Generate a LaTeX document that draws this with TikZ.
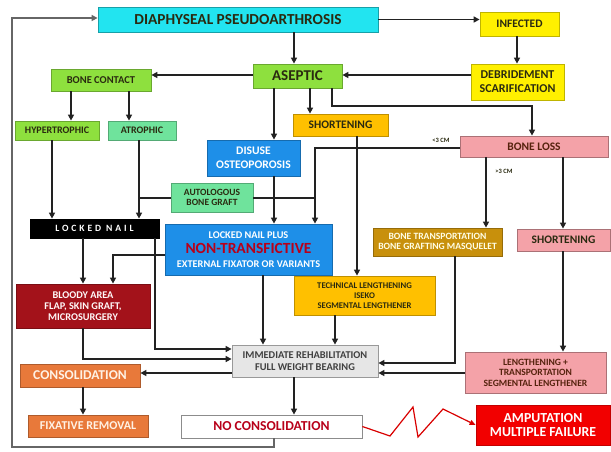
\documentclass[tikz,border=0pt]{standalone}
\usepackage{fontspec}
\setmainfont{Carlito}
\usetikzlibrary{arrows.meta}
\definecolor{cyanbox}{HTML}{22E4F0}
\definecolor{yelbox}{HTML}{FFF000}
\definecolor{grnbox}{HTML}{8EE03E}
\definecolor{mintbox}{HTML}{6FE39C}
\definecolor{bluebox}{HTML}{1E8FE8}
\definecolor{ambbox}{HTML}{FFC000}
\definecolor{pinkbox}{HTML}{F4A2A8}
\definecolor{goldbox}{HTML}{C8900C}
\definecolor{darkred}{HTML}{A3121A}
\definecolor{graybox}{HTML}{E6E6E6}
\definecolor{orgbox}{HTML}{E8793A}
\definecolor{redbox}{HTML}{F20000}
\definecolor{txtdark}{HTML}{2A2A10}
\definecolor{ntred}{HTML}{B8001A}
\definecolor{linec}{HTML}{222222}
\newcommand{\fsz}[1]{\fontsize{#1}{#1}\selectfont}
\begin{document}
\begin{tikzpicture}[x=1pt,y=-1pt,
  box/.style={draw=black!45, line width=0.8pt, inner sep=0pt, align=center, font=\bfseries, text=txtdark},
  arr/.style={draw=linec, line width=1.5pt, -{Triangle[length=6pt,width=6pt]}},
  ln/.style={draw=linec, line width=1.5pt},
  lbl/.style={font=\bfseries\fsz{6.5}, text=txtdark, inner sep=0pt}]
\path[use as bounding box, fill=white] (0,0) rectangle (611,451);
% boxes
\node[box, fill=cyanbox, draw=cyanbox!70!black, minimum width=280pt, minimum height=25pt, font=\bfseries\fsz{15.3}] (diaph) at (238,19.5) {DIAPHYSEAL PSEUDOARTHROSIS};
\node[box, fill=yelbox, draw=yelbox!75!black, minimum width=79pt, minimum height=24pt, font=\bfseries\fsz{11.5}] (infected) at (519.5,24) {INFECTED};
\node[box, fill=yelbox, draw=yelbox!75!black, minimum width=93pt, minimum height=36pt, font=\bfseries\fsz{12}] (debride) at (517.5,82) {DEBRIDEMENT\\[2pt]SCARIFICATION};
\node[box, fill=grnbox, draw=grnbox!75!black, minimum width=89pt, minimum height=24pt, font=\bfseries\fsz{15}] (aseptic) at (297.5,76) {ASEPTIC};
\node[box, fill=grnbox, draw=grnbox!75!black, minimum width=100pt, minimum height=22pt, font=\bfseries\fsz{10.5}] (bonecontact) at (101,80) {BONE CONTACT};
\node[box, fill=grnbox, draw=grnbox!75!black, minimum width=84pt, minimum height=19pt, font=\bfseries\fsz{10}] (hyper) at (57,130.5) {HYPERTROPHIC};
\node[box, fill=mintbox, draw=mintbox!75!black, minimum width=68pt, minimum height=19pt, font=\bfseries\fsz{10}] (atrophic) at (142,130.5) {ATROPHIC};
\node[box, fill=bluebox, draw=bluebox!75!black, minimum width=93pt, minimum height=36pt, font=\bfseries\fsz{11.6}, text=white] (disuse) at (253.5,158) {DISUSE\\[2pt]OSTEOPOROSIS};
\node[box, fill=ambbox, draw=ambbox!75!black, minimum width=95pt, minimum height=22pt, font=\bfseries\fsz{11.5}] (shortY) at (340.5,125) {SHORTENING};
\node[box, fill=pinkbox, draw=pinkbox!70!black, minimum width=148pt, minimum height=21pt, font=\bfseries\fsz{11.5}, text=txtdark!80!red] (boneloss) at (534,146.5) {BONE LOSS};
\node[box, fill=mintbox, draw=mintbox!75!black, minimum width=82pt, minimum height=29pt, font=\bfseries\fsz{9.5}] (autologous) at (212,197.5) {AUTOLOGOUS\\[1pt]BONE GRAFT};
\node[box, fill=black, draw=black, minimum width=129pt, minimum height=19pt, font=\bfseries\fsz{9.6}\addfontfeature{LetterSpace=30}, text=white] (lockednail) at (94.5,228.5) {LOCKED NAIL};
\node[box, fill=bluebox, draw=bluebox!75!black, minimum width=167pt, minimum height=51pt, text=white] (lnplus) at (248.5,249.5) {{\fsz{10.3}LOCKED NAIL PLUS}\\[3pt]{\fsz{15.5}\color{ntred}NON-TRANSFICTIVE}\\[2pt]{\fsz{10.3}EXTERNAL FIXATOR OR VARIANTS}};
\node[box, fill=goldbox, draw=goldbox!75!black, minimum width=129pt, minimum height=28pt, font=\bfseries\fsz{9.6}, text=white!90!yellow] (bonetrans) at (437.5,242) {BONE TRANSPORTATION\\[1pt]BONE GRAFTING MASQUELET};
\node[box, fill=pinkbox, draw=pinkbox!70!black, minimum width=93pt, minimum height=22pt, font=\bfseries\fsz{11.5}] (shortP) at (563.5,240) {SHORTENING};
\node[box, fill=ambbox, draw=ambbox!75!black, minimum width=141pt, minimum height=39pt, font=\bfseries\fsz{8.7}] (technical) at (364.5,295.5) {TECHNICAL LENGTHENING\\[1pt]ISEKO\\[1pt]SEGMENTAL LENGTHENER};
\node[box, fill=darkred, draw=darkred!75!black, minimum width=134pt, minimum height=44pt, font=\bfseries\fsz{10.3}, text=white!90!pink] (bloody) at (83,306) {BLOODY AREA\\[1pt]FLAP, SKIN GRAFT,\\[1pt]MICROSURGERY};
\node[box, fill=graybox, draw=black!40, minimum width=146pt, minimum height=32pt, font=\bfseries\fsz{10.4}, text=black!75] (rehab) at (305,361) {IMMEDIATE REHABILITATION\\[1pt]FULL WEIGHT BEARING};
\node[box, fill=pinkbox, draw=pinkbox!70!black, minimum width=141pt, minimum height=41pt, font=\bfseries\fsz{9.6}, text=txtdark!80!red] (lengthening) at (535.5,372.5) {LENGTHENING +\\[1pt]TRANSPORTATION\\[1pt]SEGMENTAL LENGTHENER};
\node[box, fill=orgbox, draw=orgbox!75!black, minimum width=120pt, minimum height=23pt, font=\bfseries\fsz{13.5}, text=orange!10] (consol) at (80,375.5) {CONSOLIDATION};
\node[box, fill=orgbox, draw=orgbox!75!black, minimum width=120pt, minimum height=22pt, font=\bfseries\fsz{12}, text=orange!10] (fixrem) at (88,426) {FIXATIVE REMOVAL};
\node[box, fill=white, draw=black!45, minimum width=181pt, minimum height=23pt, font=\bfseries\fsz{13.7}, text=ntred] (nocons) at (271.5,426.5) {NO CONSOLIDATION};
\node[box, fill=redbox, draw=redbox!80!black, minimum width=134pt, minimum height=40pt, font=\bfseries\fsz{13.8}, text=white] (amput) at (543,425) {AMPUTATION\\[1pt]MULTIPLE FAILURE};
% labels
\node[lbl] (lt3) at (441,140) {<3 CM};
\node[lbl] (gt3) at (504,171) {>3 CM};
% helper coordinates
\foreach \xx in {12,52,71,83,113,129,139,155,263,274,294,310,315,332,335,357,455,486,517,532,563}
  {\coordinate (X\xx) at (\xx,0);}
\foreach \yy in {18,75,106,148,198,255,349,359,363,373,447}
  {\coordinate (Y\yy) at (0,\yy);}
% connectors
\draw[arr] (diaph.east) -- (diaph.east -| infected.west);
\draw[arr] (X294 |- diaph.south) -- (X294 |- aseptic.north);
\draw[arr] (X517 |- infected.south) -- (X517 |- debride.north);
\draw[arr] (debride.west |- Y75) -- (aseptic.east |- Y75);
\draw[arr] (aseptic.west |- Y75) -- (bonecontact.east |- Y75);
\draw[arr] (X71 |- bonecontact.south) -- (X71 |- hyper.north);
\draw[arr] (X129 |- bonecontact.south) -- (X129 |- atrophic.north);
\draw[arr] (X274 |- aseptic.south) -- (X274 |- disuse.north);
\draw[arr] (X310 |- aseptic.south) -- (X310 |- shortY.north);
\draw[arr] (X332 |- aseptic.south) -- (X332 |- Y106) -- (X532 |- Y106) -- (X532 |- boneloss.north);
\draw[arr] (X52 |- hyper.south) -- (X52 |- lockednail.north);
\draw[arr] (X139 |- atrophic.south) -- (X139 |- lockednail.north);
\draw[ln] (X139 |- Y198) -- (autologous.west |- Y198);
\draw[ln] (autologous.east |- Y198) -- (X315 |- Y198);
\draw[arr] (boneloss.west |- Y148) -- (X315 |- Y148) -- (X315 |- lnplus.north);
\draw[arr] (X274 |- disuse.south) -- (X274 |- lnplus.north);
\draw[arr] (X357 |- shortY.south) -- (X357 |- technical.north);
\draw[arr] (X83 |- lockednail.south) -- (X83 |- bloody.north);
\draw[arr] (lnplus.west |- Y255) -- (X113 |- Y255) -- (X113 |- bloody.north);
\draw[arr] (X155 |- lockednail.south) -- (X155 |- Y349) -- (rehab.west |- Y349);
\draw[arr] (X83 |- bloody.south) -- (X83 |- Y359) -- (rehab.west |- Y359);
\draw[arr] (X263 |- lnplus.south) -- (X263 |- rehab.north);
\draw[arr] (X335 |- technical.south) -- (X335 |- rehab.north);
\draw[arr] (X455 |- bonetrans.south) -- (X455 |- Y363) -- (rehab.east |- Y363);
\draw[arr] (X563 |- shortP.south) -- (X563 |- lengthening.north);
\draw[arr] (lengthening.west |- Y373) -- (rehab.east |- Y373);
\draw[arr] (X486 |- boneloss.south) -- (X486 |- bonetrans.north);
\draw[arr] (X563 |- boneloss.south) -- (X563 |- shortP.north);
\draw[arr] (rehab.west |- Y373) -- (consol.east |- Y373);
\draw[arr] (X83 |- consol.south) -- (X83 |- fixrem.north);
\draw[arr] (X294 |- rehab.south) -- (X294 |- nocons.north);
\draw[arr, draw=black!60] (X274 |- nocons.south) -- (X274 |- Y447) -- (X12 |- Y447) -- (X12 |- Y18) -- (diaph.west |- Y18);
% zigzag to amputation
\coordinate (z1) at (390,436);
\coordinate (z2) at (413,407);
\coordinate (z3) at (418,437);
\coordinate (z4) at (443,409);
\draw[draw=red!85!black, line width=1.2pt, -{Triangle[length=6pt,width=5pt]}] (nocons.east) -- (z1) -- (z2) -- (z3) -- (z4) -- (amput.west);
\end{tikzpicture}
\end{document}
